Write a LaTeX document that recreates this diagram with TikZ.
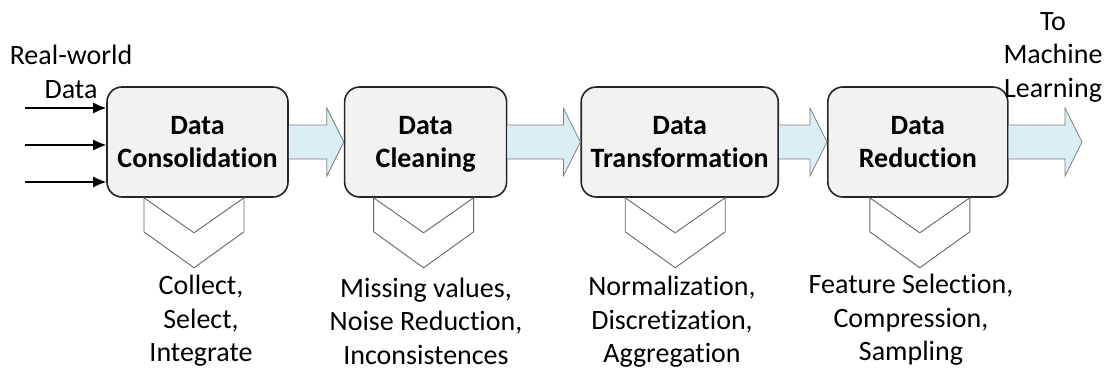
\documentclass[tikz,border=0pt]{standalone}
\usepackage{fontspec}
\setmainfont[Ligatures=NoCommon]{Carlito}
\usetikzlibrary{calc,positioning,arrows.meta}
\usepackage{xcolor}
\definecolor{stagefill}{HTML}{F2F2F2}
\definecolor{flowfill}{HTML}{DAEEF3}

% Block arrow from a stage to a point
\newcommand{\flowto}[2]{%
  \path[flow] ($(#1.east)+(0,-17)$) -- ($(#2)+(-17,-17)$) -- ($(#2)+(-17,-34)$)
    -- (#2) -- ($(#2)+(-17,34)$) -- ($(#2)+(-17,17)$) -- ($(#1.east)+(0,17)$);}

% Chevron hanging under a stage
\newcommand{\chevron}[2]{%
  \draw[chev] ($(#1.south)+(#2-50,0)$) -- ($(#1.south)+(#2,35)$) -- ($(#1.south)+(#2+50,0)$)
    -- ($(#1.south)+(#2+50,34)$) -- ($(#1.south)+(#2,70)$) -- ($(#1.south)+(#2-50,34)$) -- cycle;}

\begin{document}
\begin{tikzpicture}[
  x=1pt, y=-1pt,
  font=\fontsize{28}{33.5}\selectfont,
  stage/.style={draw=black!85, line width=1.6pt, fill=stagefill, rounded corners=15pt,
    align=center, inner sep=0pt, minimum height=110pt, text depth=0pt,
    font=\fontsize{28}{33}\selectfont\bfseries},
  flow/.style={draw=black!50, line width=0.8pt, fill=flowfill},
  feed/.style={line width=1.1pt, -{Latex[length=13pt,width=11pt]}},
  chev/.style={draw=black!60, line width=0.9pt},
  lab/.style={align=center, inner sep=0pt}
]
\useasboundingbox (0,0) rectangle (1105,369);

% ------------------------
% Stages
% ------------------------
\node[stage, minimum width=181pt] (cons) at (197.5,142) {Data\\Consolidation};
\node[stage, minimum width=162pt, right=55pt of cons] (clean) {Data\\Cleaning};
\node[stage, minimum width=197pt, right=73pt of clean] (trans) {Data\\Transformation};
\node[stage, minimum width=180pt, right=48pt of trans] (red) {Data\\Reduction};

\flowto{cons}{clean.west}
\flowto{clean}{trans.west}
\flowto{trans}{red.west}
\coordinate (mlTip) at (1082,142);
\flowto{red}{mlTip}

% Inputs
\node[lab] (rwData) at (71,72) {Real-world\\Data};
\coordinate (src1) at (25,108);
\coordinate (src2) at (25,145);
\coordinate (src3) at (25,182);
\draw[feed] (src1) -- (src1 -| cons.west);
\draw[feed] (src2) -- (src2 -| cons.west);
\draw[feed] (src3) -- (src3 -| cons.west);

% Output
\node[lab] (toML) at (1053,57) {To\\Machine\\Learning};

% ------------------------
% Chevrons and tasks
% ------------------------
\chevron{cons}{-3.5}
\chevron{clean}{-2}
\chevron{trans}{-4.5}
\chevron{red}{2}

\node[lab] (consTask) at (201,321) {Collect,\\Select,\\Integrate};
\node[lab] (cleanTask) at (426,321) {Missing values,\\Noise Reduction,\\Inconsistences};
\node[lab] (transTask) at (672,322) {Normalization,\\Discretization,\\Aggregation};
\node[lab] (redTask) at (911,320) {Feature Selection,\\Compression,\\Sampling};

\end{tikzpicture}
\end{document}
